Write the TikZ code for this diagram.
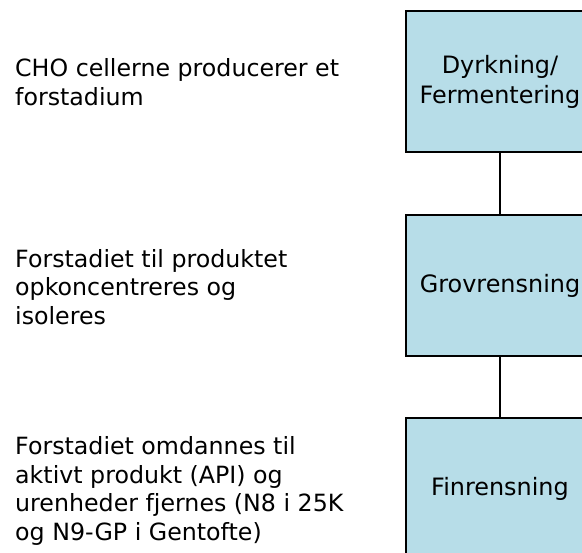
\documentclass[tikz,border=0pt]{standalone}
\usepackage{fontspec}
\setmainfont{DejaVu Sans}
\definecolor{boxfill}{HTML}{B7DDE8}
\begin{document}
\begin{tikzpicture}[x=1bp,y=-1bp,
  stage/.style={draw=black,line width=1.5bp,fill=boxfill,minimum width=188bp,minimum height=141bp,
    align=center,inner sep=0pt,font=\fontsize{24}{30}\selectfont},
  desc/.style={anchor=west,align=left,inner sep=0pt,font=\fontsize{23.8}{28.7}\selectfont},
  link/.style={draw=black,line width=1.5bp}]
\useasboundingbox (0,0) rectangle (582,553);
\clip (0,0) rectangle (582,553);
\node[stage] (s1) at (500,81.5) {Dyrkning/\\Fermentering};
\node[stage] (s2) at (500,285.5) {Grovrensning};
\node[stage] (s3) at (500,488.5) {Finrensning};
\draw[link] (s1.south) -- (s2.north);
\draw[link] (s2.south) -- (s3.north);
\node[desc] (t1) at (15,82) {CHO cellerne producerer et\\forstadium};
\node[desc] (t2) at (15,287) {Forstadiet til produktet\\opkoncentreres og\\isoleres};
\node[desc] (t3) at (15,491) {Forstadiet omdannes til\\aktivt produkt (API) og\\urenheder fjernes (N8 i 25K\\og N9-GP i Gentofte)};
\end{tikzpicture}
\end{document}
